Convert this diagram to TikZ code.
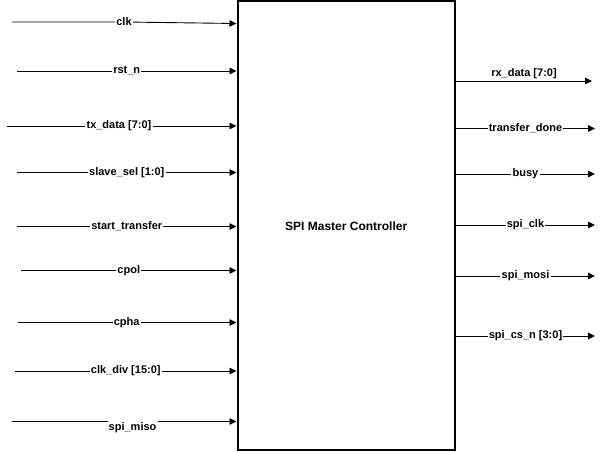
\documentclass[tikz,border=0pt]{standalone}
\usepackage{fontspec}
\setmainfont{Liberation Sans}
\usetikzlibrary{arrows.meta}
\begin{document}
\begin{tikzpicture}[x=1pt,y=-1pt,
  arr/.style={line width=0.9pt,-{Triangle[length=7pt,width=6.5pt]}},
  lbl/.style={fill=white,inner sep=1.2pt,font=\fontsize{11}{13}\selectfont\bfseries},
  blockbox/.style={draw,line width=2pt,inner sep=0pt,minimum width=217.5pt,minimum height=448.5pt,
    font=\fontsize{12}{14}\selectfont\bfseries}]
\useasboundingbox (0,0) rectangle (605,452);
\node[blockbox] (box) at (346.25,225.75) {SPI Master Controller};
% input start points
\coordinate (i1) at (12,22);
\coordinate (w1) at (124,22);
\coordinate (e1) at (237,23.5);
\coordinate (i2) at (17,71);
\coordinate (i3) at (7,126);
\coordinate (i4) at (17,172.5);
\coordinate (i5) at (17,226.5);
\coordinate (i6) at (21,270.5);
\coordinate (i7) at (18,322.5);
\coordinate (i8) at (15,371);
\coordinate (i9) at (12,421.5);
% output end points
\coordinate (o1) at (592,81);
\coordinate (o2) at (595,128.5);
\coordinate (o3) at (595,174);
\coordinate (o4) at (595,225);
\coordinate (o5) at (595,276);
\coordinate (o6) at (595,336);
% inputs
\draw[arr] (i1) -- (w1) -- (box.west |- e1);
\node[lbl] (lclk) at (w1) {clk};
\draw[arr] (i2) -- node[lbl,pos=0.5] {rst\_n} (box.west |- i2);
\draw[arr] (i3) -- node[lbl,pos=0.488] {tx\_data [7:0]} (box.west |- i3);
\draw[arr] (i4) -- node[lbl,pos=0.5] {slave\_sel [1:0]} (box.west |- i4);
\draw[arr] (i5) -- node[lbl,pos=0.5] {start\_transfer} (box.west |- i5);
\draw[arr] (i6) -- node[lbl,pos=0.5] {cpol} (box.west |- i6);
\draw[arr] (i7) -- node[lbl,pos=0.497] {cpha} (box.west |- i7);
\draw[arr] (i8) -- node[lbl,pos=0.5] {clk\_div [15:0]} (box.west |- i8);
\draw[arr] (i9) -- node[lbl,pos=0.537,yshift=-6pt] {spi\_miso} (box.west |- i9);
% outputs
\draw[arr] (box.east |- o1) -- node[lbl,fill=none,above=1pt] {rx\_data [7:0]} (o1);
\draw[arr] (box.east |- o2) -- node[lbl] {transfer\_done} (o2);
\draw[arr] (box.east |- o3) -- node[lbl] {busy} (o3);
\draw[arr] (box.east |- o4) -- node[lbl] {spi\_clk} (o4);
\draw[arr] (box.east |- o5) -- node[lbl] {spi\_mosi} (o5);
\draw[arr] (box.east |- o6) -- node[lbl] {spi\_cs\_n [3:0]} (o6);
\end{tikzpicture}
\end{document}
